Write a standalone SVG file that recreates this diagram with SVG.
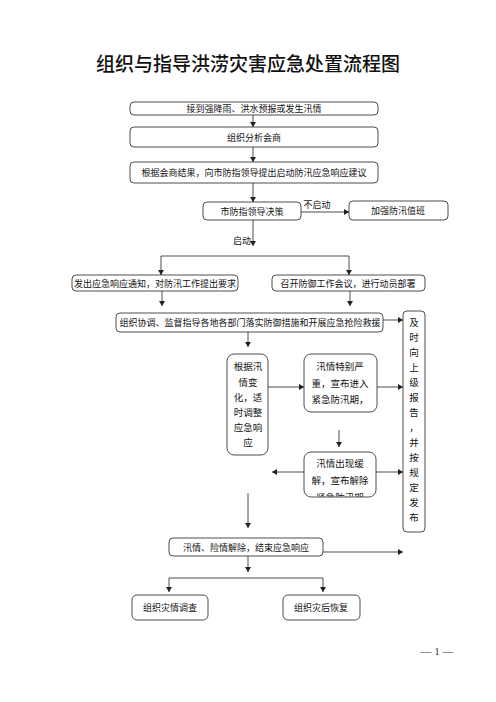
<svg xmlns="http://www.w3.org/2000/svg" width="496" height="702" viewBox="0 0 496 702">
<style>
.box{fill:#fff;stroke:#222;stroke-width:0.8}
.t{font-family:"Noto Sans CJK SC","Noto Sans",sans-serif;font-size:9px;fill:#111;text-anchor:middle;dominant-baseline:central}
.tv{font-family:"Noto Sans CJK SC","Noto Sans",sans-serif;font-size:9.5px;fill:#111;text-anchor:middle;dominant-baseline:central}
.c{stroke:#222;stroke-width:0.8;fill:none}
.a{stroke:#222;stroke-width:0.8;fill:none;marker-end:url(#arr)}
</style>
<defs>
<marker id="arr" markerUnits="userSpaceOnUse" markerWidth="6" markerHeight="6" refX="5" refY="3" orient="auto">
<path d="M0,0 L5,3 L0,6 Z" fill="#222"/>
</marker>
<clipPath id="c12"><rect x="304" y="452" width="72" height="44.5" rx="7"/></clipPath>
</defs>
<rect width="496" height="702" fill="#fff"/>
<text x="248" y="62" font-family="'Noto Sans CJK SC',sans-serif" font-size="19" font-weight="500" text-anchor="middle" dominant-baseline="central" fill="#111">组织与指导洪涝灾害应急处置流程图</text>

<g id="connectors">
<path class="a" d="M253,115 V127"/>
<path class="a" d="M253,147 V162"/>
<path class="a" d="M253,183 V202"/>
<path class="a" d="M301,212 H349"/>
<text class="t" x="317" y="204">不启动</text>
<path class="a" d="M253,220 V246"/>
<text class="t" x="242" y="240">启动</text>
<path class="c" d="M161,256 H349"/>
<path class="a" d="M161,256 V275"/>
<path class="a" d="M349,256 V275"/>
<path class="a" d="M162,291 V306"/>
<path class="a" d="M350,291 V306"/>
<path class="a" d="M383,320 H403"/>
<path class="a" d="M248,332 V347"/>
<path class="a" d="M268,387 H304"/>
<path class="a" d="M377,387 H403"/>
<path class="a" d="M339,430 V447"/>
<path class="a" d="M304,472 H272"/>
<path class="a" d="M376,472 H403"/>
<path class="a" d="M248,493 V528"/>
<path class="a" d="M323,552 H403"/>
<path class="a" d="M248,556 V572"/>
<path class="c" d="M169,578 H323"/>
<path class="a" d="M169,578 V592"/>
<path class="a" d="M323,578 V592"/>
</g>

<g id="n1"><rect class="box" x="130" y="102" width="248" height="13" rx="4"/><text class="t" x="254" y="108.5">接到强降雨、洪水预报或发生汛情</text></g>
<g id="n2"><rect class="box" x="130" y="127" width="248" height="20" rx="4"/><text class="t" x="254" y="137">组织分析会商</text></g>
<g id="n3"><rect class="box" x="130" y="162" width="248" height="21" rx="4"/><text class="t" x="254" y="172.5">根据会商结果，向市防指领导提出启动防汛应急响应建议</text></g>
<g id="n4"><rect class="box" x="203" y="202" width="98" height="18" rx="4"/><text class="t" x="252" y="211">市防指领导决策</text></g>
<g id="n5"><rect class="box" x="349" y="201" width="99" height="19" rx="4"/><text class="t" x="398" y="210.5">加强防汛值班</text></g>
<g id="n6"><rect class="box" x="72" y="275" width="166" height="16" rx="4"/><text class="t" x="155" y="283">发出应急响应通知，对防汛工作提出要求</text></g>
<g id="n7"><rect class="box" x="272" y="275" width="153" height="16" rx="4"/><text class="t" x="348" y="283">召开防御工作会议，进行动员部署</text></g>
<g id="n8"><rect class="box" x="116" y="313" width="267" height="19" rx="4"/><text class="t" x="250" y="322.5">组织协调、监督指导各地各部门落实防御措施和开展应急抢险救援</text></g>
<g id="n9"><rect class="box" x="403" y="311" width="22" height="221" rx="4"/>
<text class="tv" x="414" y="322">及</text><text class="tv" x="414" y="337">时</text><text class="tv" x="414" y="352">向</text><text class="tv" x="414" y="367">上</text><text class="tv" x="414" y="382">级</text><text class="tv" x="414" y="397">报</text><text class="tv" x="414" y="412">告</text><text class="tv" x="414" y="427">，</text><text class="tv" x="414" y="442">并</text><text class="tv" x="414" y="457">按</text><text class="tv" x="414" y="472">规</text><text class="tv" x="414" y="487">定</text><text class="tv" x="414" y="502">发</text><text class="tv" x="414" y="517">布</text></g>
<g id="n10"><rect class="box" x="227" y="354" width="41" height="101" rx="7"/>
<text class="tv" x="248" y="366">根据汛</text><text class="tv" x="248" y="382">情变</text><text class="tv" x="248" y="397">化，适</text><text class="tv" x="248" y="412">时调整</text><text class="tv" x="248" y="427">应急响</text><text class="tv" x="248" y="442">应</text></g>
<g id="n11"><rect class="box" x="304" y="354" width="73" height="58" rx="7"/>
<text class="tv" x="340" y="366">汛情特别严</text><text class="tv" x="340" y="383">重，宣布进入</text><text class="tv" x="340" y="399">紧急防汛期，</text></g>
<g id="n12"><rect class="box" x="304" y="452" width="72" height="45" rx="7"/>
<text class="tv" x="340" y="463">汛情出现缓</text><text class="tv" x="340" y="480">解，宣布解除</text><text class="tv" x="340" y="497" clip-path="url(#c12)">紧急防汛期</text></g>
<g id="n13"><rect class="box" x="169" y="538" width="154" height="18" rx="4"/><text class="t" x="246" y="547">汛情、险情解除，结束应急响应</text></g>
<g id="n14"><rect class="box" x="132" y="595" width="76" height="25" rx="5"/><text class="t" x="170" y="607.5">组织灾情调查</text></g>
<g id="n15"><rect class="box" x="283" y="595" width="77" height="25" rx="5"/><text class="t" x="321" y="607.5">组织灾后恢复</text></g>

<text x="437" y="651" font-family="'Liberation Serif',serif" font-size="11" text-anchor="middle" dominant-baseline="central" fill="#333">— 1 —</text>
</svg>
